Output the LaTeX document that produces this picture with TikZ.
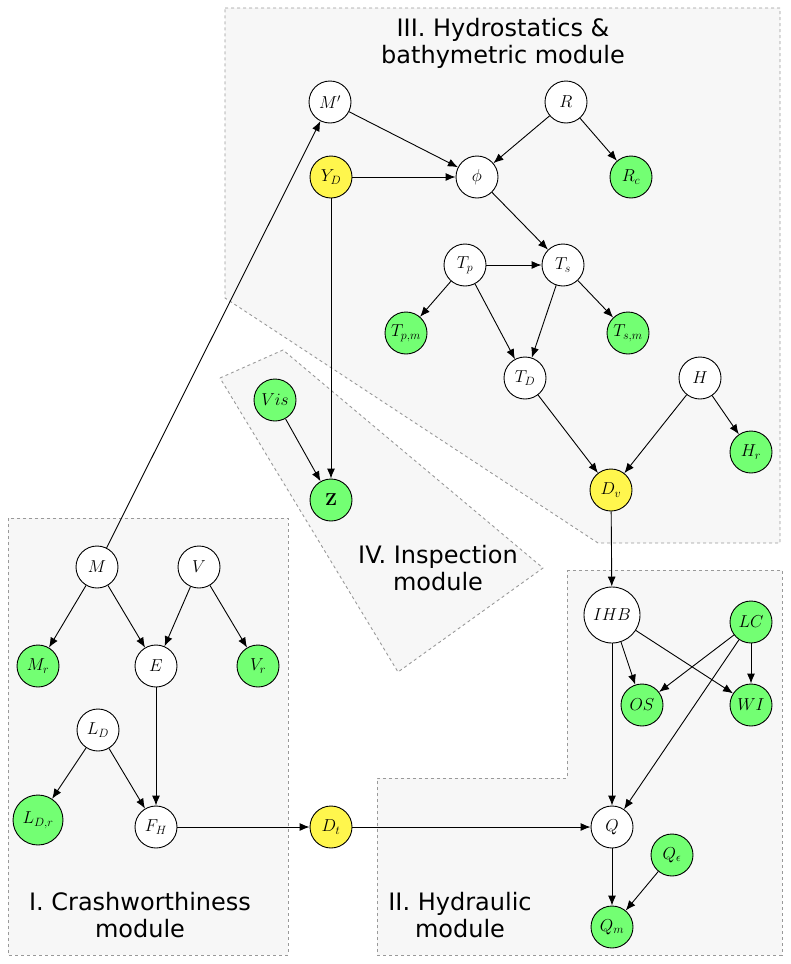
\documentclass[tikz,border=0pt]{standalone}
\usepackage{amsmath}
\usepackage[no-math]{fontspec}
\setmainfont{DejaVu Sans}
\DeclareMathSizes{17}{17}{12.5}{9}
\usetikzlibrary{arrows.meta}
\tikzstyle{var}=[circle,draw=black,fill=white,line width=0.9pt,minimum size=42pt,inner sep=0pt,font=\fontsize{17}{19}\selectfont]
\tikzstyle{obs}=[var,fill=green!55]
\tikzstyle{dec}=[var,fill=yellow!70]
\tikzstyle{module}=[draw=gray!80,dashed,fill=gray!6]
\tikzstyle{mlabel}=[align=center,font=\fontsize{24}{27}\selectfont]
\begin{document}
\begin{tikzpicture}[x=1pt,y=-1pt,>={Latex[length=10pt,width=8pt]},line width=0.9pt]
            \useasboundingbox (0,0) rectangle (790,964);

            % MODULE BOXES
            \path[module] (225,8) -- (780,8) -- (780,543) -- (598,543) -- (225,298) -- cycle;
            \path[module] (220,378) -- (283,350) -- (543,568) -- (398,672) -- cycle;
            \path[module] (8,518) rectangle (288,955);
            \path[module] (567,570) -- (782,570) -- (782,955) -- (377,955) -- (377,778) -- (567,778) -- cycle;

            \node[mlabel] (l3) at (503,43) {III. Hydrostatics \&\\bathymetric module};
            \node[mlabel] (l4) at (438,568) {IV. Inspection\\module};
            \node[mlabel] (l1) at (140,915) {I. Crashworthiness\\module};
            \node[mlabel] (l2) at (460,915) {II. Hydraulic\\module};

            % Hydrostatics PART
            \node[var] (Mp) at (330,102) {$M'$};
            \node[var] (R) at (566,102) {$R$};
            \node[dec] (YD) at (331,177) {$Y_D$};
            \node[var] (phi) at (477,177) {$\phi$};
            \node[obs] (Rc) at (631,177) {$R_c$};
            \node[var] (Tp) at (465,265) {$T_p$};
            \node[var] (Ts) at (563,265) {$T_s$};
            \node[obs] (Tpm) at (406,333) {$T_{p,m}$};
            \node[obs] (Tsm) at (628,333) {$T_{s,m}$};
            \node[var] (TD) at (525,378) {$T_D$};
            \node[var] (H) at (700,378) {$H$};
            \node[obs] (Hr) at (751,452) {$H_r$};
            \node[dec] (Dv) at (611,490) {$D_v$};

            \draw[->] (Mp) -- (phi);
            \draw[->] (R) -- (phi);
            \draw[->] (R) -- (Rc);
            \draw[->] (YD) -- (phi);
            \draw[->] (phi) -- (Ts);
            \draw[->] (Tp) -- (Ts);
            \draw[->] (Tp) -- (Tpm);
            \draw[->] (Tp) -- (TD);
            \draw[->] (Ts) -- (TD);
            \draw[->] (Ts) -- (Tsm);
            \draw[->] (TD) -- (Dv);
            \draw[->] (H) -- (Dv);
            \draw[->] (H) -- (Hr);

            % Inspection PART
            \node[obs] (Vis) at (275,400) {$Vis$};
            \node[obs] (Z) at (331,500) {$\mathbf{Z}$};

            \draw[->] (Vis) -- (Z);
            \draw[->] (YD) -- (Z);

            % Crashworthiness PART
            \node[var] (M) at (97,567) {$M$};
            \node[var] (V) at (199,567) {$V$};
            \node[obs] (Mr) at (38,666) {$M_r$};
            \node[var] (E) at (156,666) {$E$};
            \node[obs] (Vr) at (258,666) {$V_r$};
            \node[var] (LD) at (98,730) {$L_D$};
            \node[obs,minimum size=50pt] (LDr) at (38,820) {$L_{D,r}$};
            \node[var] (FH) at (156,827) {$F_H$};
            \node[dec] (Dt) at (331,827) {$D_t$};

            \draw[->] (M) -- (Mp);
            \draw[->] (M) -- (Mr);
            \draw[->] (M) -- (E);
            \draw[->] (V) -- (E);
            \draw[->] (V) -- (Vr);
            \draw[->] (E) -- (FH);
            \draw[->] (LD) -- (LDr);
            \draw[->] (LD) -- (FH);
            \draw[->] (FH) -- (Dt);

            % Hydraulic PART
            \node[var,minimum size=56pt] (IHB) at (612,615) {$IHB$};
            \node[obs] (LC) at (751,622) {$LC$};
            \node[obs] (OS) at (642,705) {$OS$};
            \node[obs] (WI) at (751,705) {$WI$};
            \node[var] (Q) at (612,827) {$Q$};
            \node[obs] (Qe) at (672,855) {$Q_\epsilon$};
            \node[obs] (Qm) at (612,927) {$Q_m$};

            \draw[->] (Dv) -- (IHB);
            \draw[->] (Dt) -- (Q);
            \draw[->] (IHB) -- (Q);
            \draw[->] (IHB) -- (OS);
            \draw[->] (IHB) -- (WI);
            \draw[->] (LC) -- (OS);
            \draw[->] (LC) -- (WI);
            \draw[->] (LC) -- (Q);
            \draw[->] (Q) -- (Qm);
            \draw[->] (Qe) -- (Qm);
\end{tikzpicture}
\end{document}
